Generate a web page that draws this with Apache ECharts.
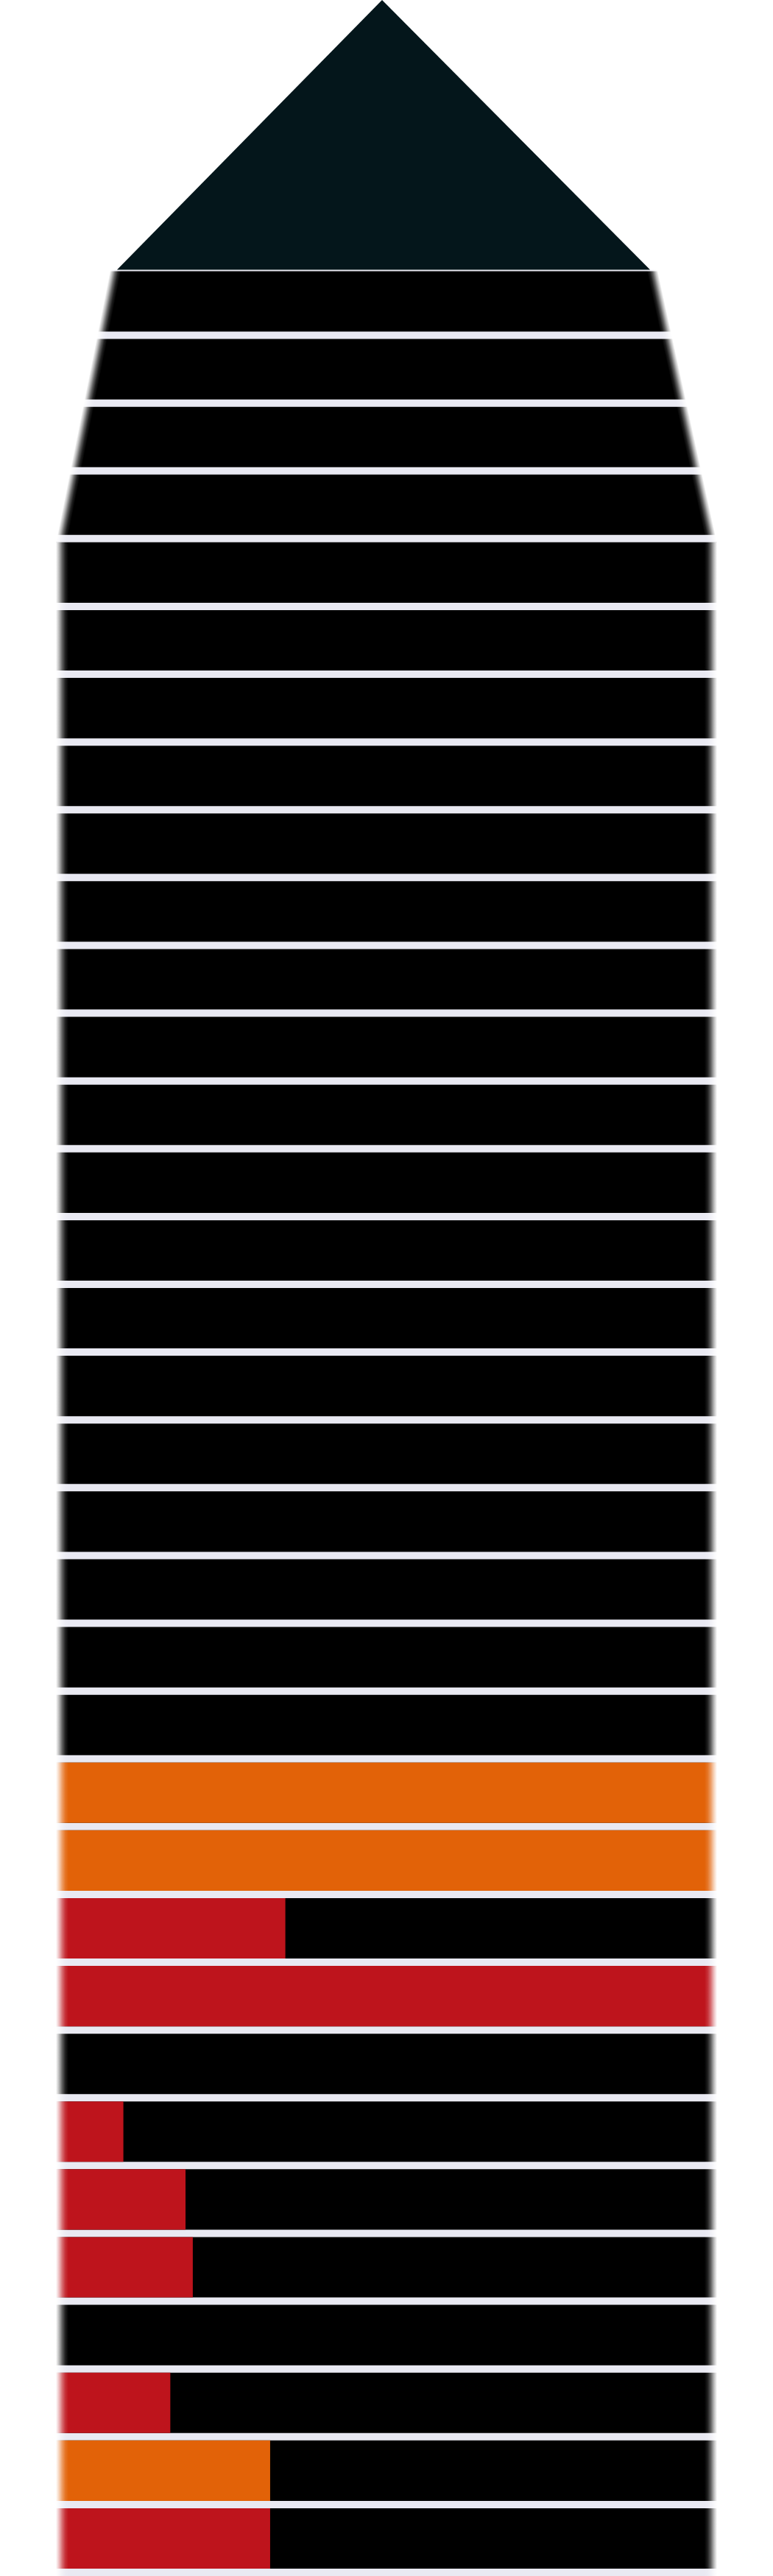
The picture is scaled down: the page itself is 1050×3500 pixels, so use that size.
<!DOCTYPE html>
<html>
<head>
<meta charset="utf-8">
<title>Building chart</title>
<script src="https://cdn.jsdelivr.net/npm/echarts@6/dist/echarts.min.js"></script>
<style>
  html, body { margin: 0; padding: 0; background: #ffffff; }
  #chart { width: 1050px; height: 3500px; }
</style>
</head>
<body>
<div id="chart"></div>
<script>
// ---- data (floors listed from the top of the building downwards) ----
const floorNames = [
  'Floor 34', 'Floor 33', 'Floor 32', 'Floor 31', 'Floor 30', 'Floor 29', 'Floor 28',
  'Floor 27', 'Floor 26', 'Floor 25', 'Floor 24', 'Floor 23', 'Floor 22', 'Floor 21',
  'Floor 20', 'Floor 19', 'Floor 18', 'Floor 17', 'Floor 16', 'Floor 15', 'Floor 14',
  'Floor 13', 'Floor 12', 'Floor 11', 'Floor 10', 'Floor 9', 'Floor 8', 'Floor 7',
  'Floor 6', 'Floor 5', 'Floor 4', 'Floor 3', 'Floor 2', 'Floor 1'
];
// share of each floor's width, in percent
const floorTotals = [
  100, 100, 100, 100, 100, 100, 100, 100, 100, 100, 100, 100, 100, 100, 100, 100, 100,
  100, 100, 100, 100, 100, 100, 100, 100, 100, 100, 100, 100, 100, 100, 100, 100, 100
];
const redValues = [
  0, 0, 0, 0, 0, 0, 0, 0, 0, 0, 0, 0, 0, 0, 0, 0, 0, 0, 0, 0, 0, 0,
  0, 0, 34.7, 100, 0, 10.2, 19.6, 20.7, 0, 17.3, 0, 32.4
];
const orangeValues = [
  0, 0, 0, 0, 0, 0, 0, 0, 0, 0, 0, 0, 0, 0, 0, 0, 0, 0, 0, 0, 0, 0,
  100, 100, 0, 0, 0, 0, 0, 0, 0, 0, 32.4, 0
];

// ---- styling / geometry constants ----
const ROOF_UNITS = 4;          // roof occupies four floor heights
const GAP_PX = 10;
const COLORS = { floor: '#000000', gap: '#e9e9f2', red: '#be141c', orange: '#e26208', roof: '#04161b' };
const ROOF = { apex: 49.33, left: 9.24, right: 89.87 };
const FADE = 17;
const TAPER = { leftTopInset: 74, rightTopInset: 81 }; // outer edge inset at roof base

const chart = echarts.init(document.getElementById('chart'), null, { renderer: 'canvas' });

function floorRect(api, k, value) {
  const yTop = ROOF_UNITS + k;
  const p0 = api.coord([0, yTop]);
  const p1 = api.coord([value, yTop + 1]);
  return { x: p0[0], y: p0[1], w: p1[0] - p0[0], h: p1[1] - p0[1] };
}

function renderFloor(params, api) {
  const k = api.value(1);
  const r = floorRect(api, k, api.value(0));
  const extra = k === 0 ? 2 : 0;
  return {
    type: 'group',
    children: [
      { type: 'rect', shape: { x: r.x, y: r.y - extra, width: r.w, height: r.h + extra }, style: { fill: COLORS.gap } },
      { type: 'rect', shape: { x: r.x, y: r.y, width: r.w, height: r.h - GAP_PX }, style: { fill: COLORS.floor } }
    ]
  };
}

function makeBarRenderer(color) {
  return function (params, api) {
    const v = api.value(0);
    if (!v) return null;
    const r = floorRect(api, api.value(1), v);
    return { type: 'rect', shape: { x: r.x, y: r.y, width: r.w, height: r.h - GAP_PX }, style: { fill: color } };
  };
}

const fadeStops = [
  { offset: 0, color: 'rgba(255,255,255,1)' },
  { offset: 0.25, color: 'rgba(255,255,255,0.72)' },
  { offset: 0.5, color: 'rgba(255,255,255,0.38)' },
  { offset: 0.75, color: 'rgba(255,255,255,0.12)' },
  { offset: 1, color: 'rgba(255,255,255,0)' }
];

function renderOverlay(params, api) {
  const L = api.coord([0, 0])[0];
  const R = api.coord([100, 0])[0];
  const yT = api.coord([0, ROOF_UNITS])[1] - 3;
  const yS = api.coord([0, ROOF_UNITS + 4])[1];
  const yB = api.coord([0, ROOF_UNITS + floorNames.length])[1] + 20;
  const children = [];
  // straight section
  children.push({ type: 'rect', shape: { x: -10, y: yS, width: L + FADE + 10, height: yB - yS },
    style: { fill: new echarts.graphic.LinearGradient(L, 0, L + FADE, 0, fadeStops, true) } });
  children.push({ type: 'rect', shape: { x: R - FADE, y: yS, width: 1100 - (R - FADE), height: yB - yS },
    style: { fill: new echarts.graphic.LinearGradient(R, 0, R - FADE, 0, fadeStops, true) } });
  // tapered section, left
  (function () {
    const xt = L + TAPER.leftTopInset, xb = L;
    const dx = xb - xt, dy = yS - yT, len = Math.hypot(dx, dy);
    const n = [dy / len, -dx / len];
    const w = FADE * 0.88 * n[0];
    children.push({ type: 'polygon', shape: { points: [[-10, yT], [xt + 22, yT], [xb + 22, yS], [-10, yS]] },
      style: { fill: new echarts.graphic.LinearGradient(xt, yT, xt + n[0] * w, yT + n[1] * w, fadeStops, true) } });
  })();
  // tapered section, right
  (function () {
    const xt = R - TAPER.rightTopInset, xb = R;
    const dx = xb - xt, dy = yS - yT, len = Math.hypot(dx, dy);
    const n = [-dy / len, dx / len];
    const w = FADE * 0.88 * -n[0];
    children.push({ type: 'polygon', shape: { points: [[1100, yT], [xt - 22, yT], [xb - 22, yS], [1100, yS]] },
      style: { fill: new echarts.graphic.LinearGradient(xt, yT, xt + n[0] * w, yT + n[1] * w, fadeStops, true) } });
  })();
  return { type: 'group', children: children };
}

function renderRoof(params, api) {
  const a = api.coord([ROOF.apex, 0]);
  const l = api.coord([ROOF.left, ROOF_UNITS]);
  const r = api.coord([ROOF.right, ROOF_UNITS]);
  return { type: 'polygon', shape: { points: [[a[0], a[1]], [r[0], r[1] - 2], [l[0], l[1] - 2]] },
    style: { fill: COLORS.roof } };
}

const option = {
  animation: false,
  backgroundColor: '#ffffff',
  grid: { left: 76, right: 76, top: 0, bottom: -11 },
  xAxis: { type: 'value', min: 0, max: 100, show: false },
  yAxis: { type: 'value', inverse: true, min: 0, max: ROOF_UNITS + floorNames.length, show: false },
  series: [
    { type: 'custom', name: 'floors', z: 1, renderItem: renderFloor,
      data: floorTotals.map((v, i) => ({ name: floorNames[i], value: [v, i] })) },
    { type: 'custom', name: 'red', z: 2, renderItem: makeBarRenderer(COLORS.red),
      data: redValues.map((v, i) => ({ name: floorNames[i], value: [v, i] })) },
    { type: 'custom', name: 'orange', z: 2, renderItem: makeBarRenderer(COLORS.orange),
      data: orangeValues.map((v, i) => ({ name: floorNames[i], value: [v, i] })) },
    { type: 'custom', name: 'edge', z: 5, silent: true, renderItem: renderOverlay, data: [[0, 0]] },
    { type: 'custom', name: 'roof', z: 6, silent: true, renderItem: renderRoof, data: [[0, 0]] }
  ]
};
chart.setOption(option);
</script>
</body>
</html>
